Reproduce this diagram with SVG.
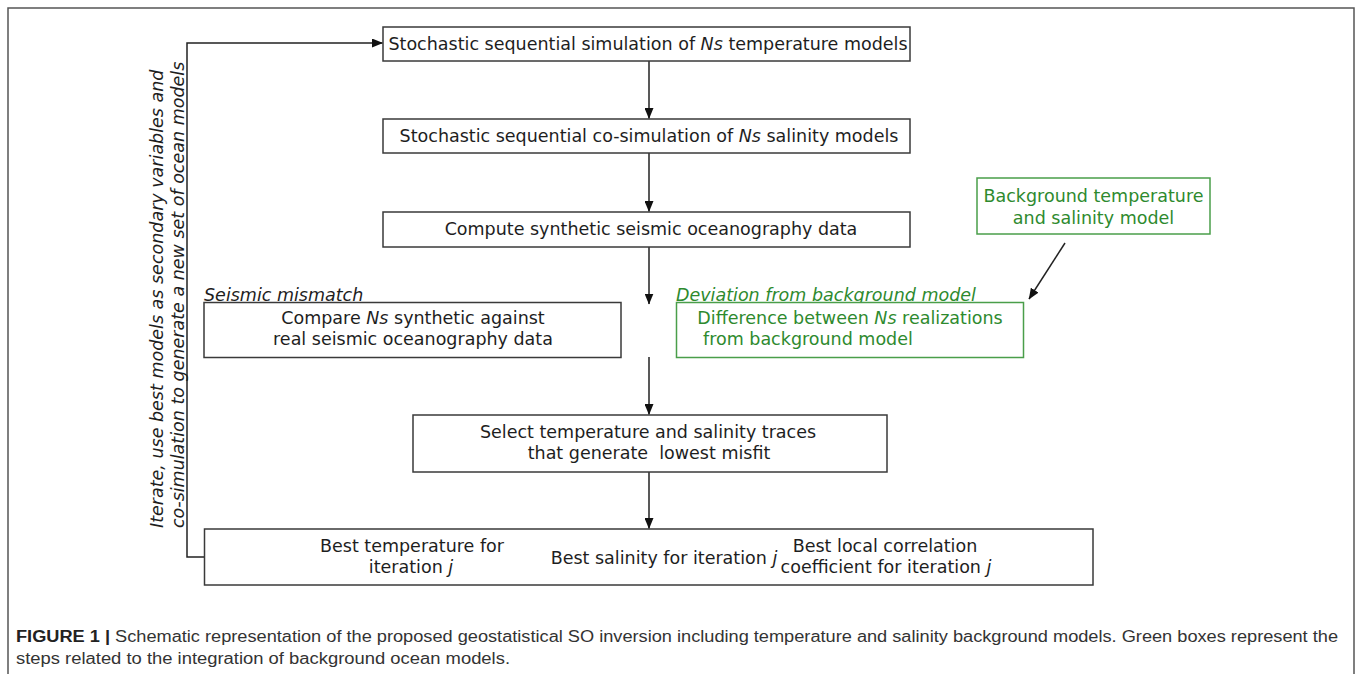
<svg xmlns="http://www.w3.org/2000/svg" width="1358" height="674" viewBox="0 0 1358 674">
<style>
.box{fill:#fff;stroke:#3a3a3a;stroke-width:1.5}
.gbox{fill:#fff;stroke:#4a9e4a;stroke-width:1.5}
.t{font-family:"DejaVu Sans",Verdana,sans-serif;font-size:17.5px;fill:#1e1e1e}
.g{fill:#2e8a2e}
.c{text-anchor:middle}
.i{font-style:italic}
.cap{font-family:"Liberation Sans",Arial,sans-serif;font-size:16px;fill:#333}
.line{fill:none;stroke:#222;stroke-width:1.5}
</style>
<defs>
<marker id="ah" markerWidth="11" markerHeight="9" refX="10.5" refY="4.5" orient="auto" markerUnits="userSpaceOnUse">
<path d="M0,0 L11,4.5 L0,9 z" fill="#111"/>
</marker>
</defs>
<rect width="1358" height="674" fill="#fff"/>
<path d="M8,680 L8,8 L1354,8 L1354,680" fill="none" stroke="#555" stroke-width="1.5"/>

<g id="connectors">
<line class="line" x1="649" y1="61" x2="649" y2="118.5" marker-end="url(#ah)"/>
<line class="line" x1="649" y1="153" x2="649" y2="211.5" marker-end="url(#ah)"/>
<line class="line" x1="649" y1="247" x2="649" y2="304" marker-end="url(#ah)"/>
<line class="line" x1="649" y1="357" x2="649" y2="414.5" marker-end="url(#ah)"/>
<line class="line" x1="649" y1="472" x2="649" y2="528.5" marker-end="url(#ah)"/>
<path class="line" d="M204.5,557 L187,557 L187,43 L382.5,43" marker-end="url(#ah)"/>
<line class="line" x1="1065" y1="243" x2="1029" y2="299" marker-end="url(#ah)"/>
</g>

<g id="loop-label">
<text class="t i" transform="translate(163,528) rotate(-90)">Iterate, use best models as secondary variables and</text>
<text class="t i" transform="translate(183.5,528) rotate(-90)">co-simulation to generate a new set of ocean models</text>
</g>

<g id="n1">
<rect class="box" x="383" y="27" width="527" height="34"/>
<text class="t c" x="648" y="50">Stochastic sequential simulation of <tspan class="i">Ns</tspan> temperature models</text>
</g>
<g id="n2">
<rect class="box" x="383" y="119" width="527" height="34"/>
<text class="t c" x="649" y="142">Stochastic sequential co-simulation of <tspan class="i">Ns</tspan> salinity models</text>
</g>
<g id="n3">
<rect class="box" x="383" y="212" width="527" height="35"/>
<text class="t c" x="651" y="235">Compute synthetic seismic oceanography data</text>
</g>
<g id="n4">
<text class="t i" x="204" y="301">Seismic mismatch</text>
<rect class="box" x="204" y="302.5" width="417" height="55"/>
<text class="t c" x="413" y="324">Compare <tspan class="i">Ns</tspan> synthetic against</text>
<text class="t c" x="413" y="345">real seismic oceanography data</text>
</g>
<g id="n5">
<rect class="gbox" x="977" y="178" width="233" height="56"/>
<text class="t g c" x="1093.5" y="202">Background temperature</text>
<text class="t g c" x="1093.5" y="224">and salinity model</text>
</g>
<g id="n6">
<text class="t g i" x="676" y="301">Deviation from background model</text>
<rect class="gbox" x="676.5" y="302.5" width="347" height="55"/>
<text class="t g c" x="850" y="324">Difference between <tspan class="i">Ns</tspan> realizations</text>
<text class="t g" x="703" y="345">from background model</text>
</g>
<g id="n7">
<rect class="box" x="413" y="415" width="474" height="57"/>
<text class="t c" x="648" y="438">Select temperature and salinity traces</text>
<text class="t c" x="649" y="459" xml:space="preserve">that generate  lowest misfit</text>
</g>
<g id="n8">
<rect class="box" x="204.5" y="529" width="888.5" height="56"/>
<text class="t c" x="412" y="552">Best temperature for</text>
<text class="t c" x="411" y="573">iteration <tspan class="i">j</tspan></text>
<text class="t c" x="664" y="564">Best salinity for iteration <tspan class="i">j</tspan></text>
<text class="t c" x="885" y="552">Best local correlation</text>
<text class="t c" x="886" y="573">coefficient for iteration <tspan class="i">j</tspan></text>
</g>

<g id="caption">
<text class="cap" x="16" y="642" textLength="1322" lengthAdjust="spacingAndGlyphs"><tspan font-weight="bold" fill="#222">FIGURE 1 |</tspan> Schematic representation of the proposed geostatistical SO inversion including temperature and salinity background models. Green boxes represent the</text>
<text class="cap" x="16" y="664" textLength="494" lengthAdjust="spacingAndGlyphs">steps related to the integration of background ocean models.</text>
</g>
</svg>
